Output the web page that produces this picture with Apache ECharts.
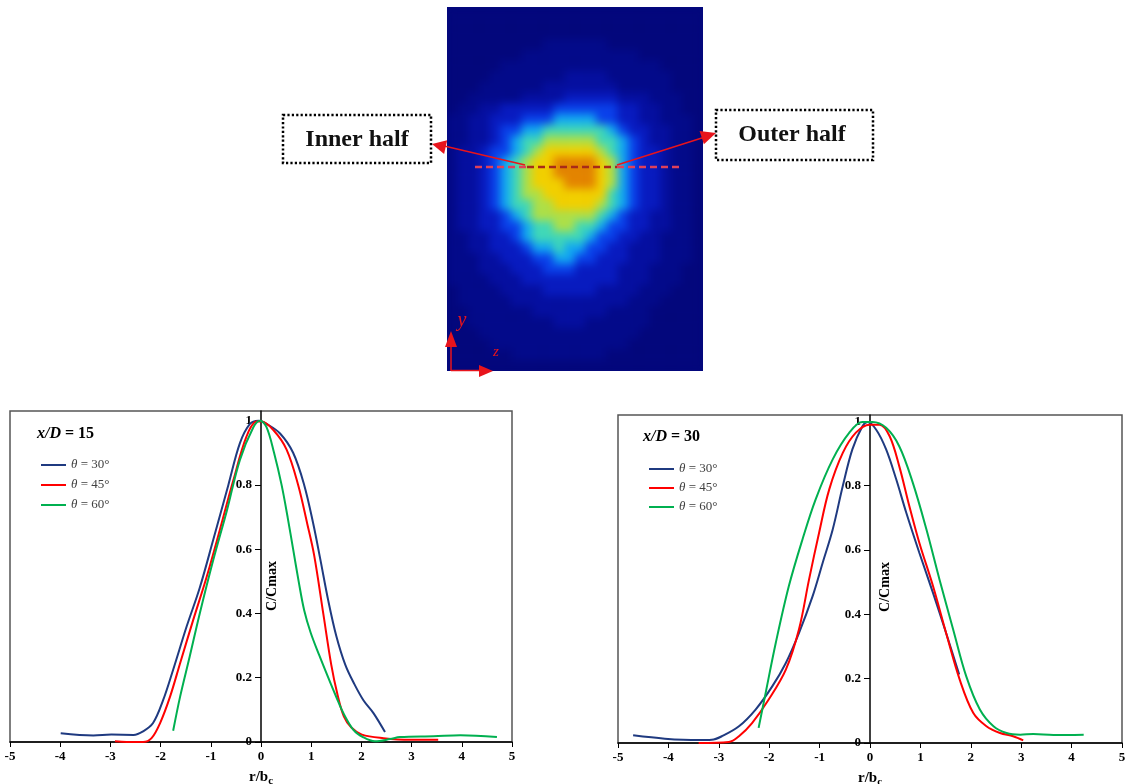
<!DOCTYPE html>
<html><head><meta charset="utf-8">
<script src="https://cdn.jsdelivr.net/npm/echarts@6/dist/echarts.min.js"></script>
<style>
html,body{margin:0;padding:0;background:#fff;}
#wrap{position:relative;width:1137px;height:784px;overflow:hidden;}
#contourClip{position:absolute;left:447px;top:7px;width:256px;height:364px;overflow:hidden;background:#03077c;}
#contour{position:absolute;left:-20px;top:-20px;width:296px;height:404px;filter:blur(4.5px);}
#main{position:absolute;left:0;top:0;width:1137px;height:784px;}
</style></head>
<body><div id="wrap"><div id="contourClip"><div id="contour"></div></div><div id="main"></div></div>
<script>
// ---------- data ----------
const seriesNames = ['θ = 30°', 'θ = 45°', 'θ = 60°'];
const panelTitles = ['15', '30'];
const xTicks = [-5, -4, -3, -2, -1, 0, 1, 2, 3, 4, 5];
const yTicks = [0, 0.2, 0.4, 0.6, 0.8, 1];

// x/D = 15  : [r/bc, C/Cmax]
const xd15_t30 = [[-3.99,0.027],[-3.34,0.020],[-2.98,0.023],[-2.54,0.022],[-2.35,0.033],[-2.15,0.059],[-1.95,0.13],[-1.75,0.225],[-1.48,0.36],[-1.22,0.48],[-0.95,0.63],[-0.65,0.80],[-0.42,0.93],[-0.22,0.99],[-0.05,1.0],[0.11,0.99],[0.38,0.96],[0.64,0.90],[0.86,0.80],[1.04,0.68],[1.18,0.57],[1.34,0.44],[1.50,0.33],[1.68,0.24],[1.86,0.18],[2.04,0.13],[2.24,0.09],[2.47,0.031]];
const xd15_t45 = [[-2.91,0.002],[-2.68,0.0],[-2.35,0.0],[-2.18,0.012],[-2.01,0.059],[-1.81,0.142],[-1.61,0.246],[-1.35,0.38],[-1.08,0.515],[-0.82,0.66],[-0.55,0.815],[-0.29,0.95],[-0.09,0.997],[0.01,0.997],[0.25,0.97],[0.51,0.91],[0.74,0.80],[0.92,0.68],[1.06,0.58],[1.24,0.40],[1.40,0.24],[1.52,0.15],[1.65,0.08],[1.80,0.045],[2.01,0.023],[2.44,0.012],[2.97,0.007],[3.53,0.007]];
const xd15_t60 = [[-1.75,0.035],[-1.61,0.142],[-1.42,0.266],[-1.22,0.40],[-0.95,0.567],[-0.68,0.72],[-0.42,0.878],[-0.15,0.98],[-0.02,1.0],[0.11,0.98],[0.26,0.90],[0.41,0.80],[0.53,0.70],[0.64,0.60],[0.75,0.50],[0.86,0.41],[0.99,0.34],[1.16,0.27],[1.34,0.20],[1.50,0.14],[1.64,0.09],[1.84,0.038],[2.04,0.0145],[2.27,0.002],[2.57,0.009],[2.77,0.0155],[3.44,0.018],[3.97,0.021],[4.70,0.0155]];

// x/D = 30
const xd30_t30 = [[-4.70,0.024],[-4.07,0.0135],[-3.40,0.009],[-3.14,0.010],[-2.94,0.021],[-2.60,0.052],[-2.27,0.104],[-1.94,0.176],[-1.67,0.249],[-1.41,0.342],[-1.14,0.456],[-0.94,0.56],[-0.74,0.664],[-0.54,0.799],[-0.35,0.913],[-0.15,0.985],[-0.05,0.998],[0.12,0.975],[0.32,0.913],[0.52,0.82],[0.72,0.716],[0.98,0.591],[1.25,0.467],[1.51,0.342],[1.77,0.213]];
const xd30_t45 = [[-3.40,0.0],[-2.80,0.003],[-2.60,0.021],[-2.34,0.062],[-2.01,0.135],[-1.67,0.228],[-1.41,0.353],[-1.21,0.508],[-1.01,0.654],[-0.81,0.788],[-0.54,0.902],[-0.28,0.965],[-0.01,0.99],[0.19,0.99],[0.39,0.954],[0.58,0.861],[0.78,0.737],[0.98,0.622],[1.25,0.488],[1.51,0.342],[1.78,0.197],[2.05,0.093],[2.31,0.052],[2.58,0.031],[2.84,0.021],[3.04,0.008]];
const xd30_t60 = [[-2.21,0.047],[-2.07,0.156],[-1.87,0.311],[-1.61,0.488],[-1.34,0.633],[-1.08,0.757],[-0.74,0.882],[-0.41,0.965],[-0.15,0.998],[0.05,0.998],[0.32,0.98],[0.58,0.923],[0.85,0.809],[1.12,0.664],[1.38,0.508],[1.65,0.353],[1.91,0.207],[2.18,0.104],[2.45,0.052],[2.71,0.031],[2.98,0.026],[3.24,0.028],[3.64,0.025],[4.24,0.026]];

// contour picture: concentration level (0..9) per cell, rows top->bottom
const contourRows = [
"000000000000000000000000",
"000000000000000000000000",
"000000000000000000000000",
"000000000111111000000000",
"000000011111111111000000",
"000001111111111111110000",
"000011111112222111111000",
"000111111222222211111000",
"001111122223333322211100",
"011223333344444433221100",
"112233344455554433221110",
"112234455666666543322110",
"112234566777776654322110",
"122344567888887654332110",
"122345678899998754332110",
"122345678899998754332110",
"122345678889998754332110",
"122345677888888654332110",
"122345667788887654332110",
"122334567777776543322110",
"122334456677665443322110",
"112233456666654433221110",
"112233345565544332221110",
"111223334455443332221110",
"111222333444333322211100",
"111122233333333322211100",
"011112222333332222111000",
"011111222222222221110000",
"001111112222222111100000",
"001111111122211111100000",
"000111111111111111000000",
"000011111111111110000000",
"000000111111111000000000",
"000000000000000000000000"
];
const levelColors = ['#03077c','#030a8a','#050fa0','#081bc0','#0a40ea','#12a8f2','#40d8b8','#aee048','#f2d000','#e48400'];

// ---------- contour ----------
const contourData = [];
contourRows.forEach((row, j) => { for (let i = 0; i < row.length; i++) contourData.push([i, j, +row[i]]); });
const nCols = contourRows[0].length, nRows = contourRows.length;
const cChart = echarts.init(document.getElementById('contour'), null, {renderer: 'canvas'});
cChart.setOption({
  animation: false,
  grid: {left: 20, top: 20, width: 256, height: 364, outerBoundsMode: 'none'},
  xAxis: {type: 'category', data: Array.from({length: nCols}, (_, i) => i), show: false},
  yAxis: {type: 'category', data: Array.from({length: nRows}, (_, i) => i), inverse: true, show: false},
  visualMap: {show: false, min: 0, max: 9, dimension: 2, inRange: {color: levelColors}},
  series: [{type: 'heatmap', data: contourData, silent: true, itemStyle: {borderWidth: 0}}]
});

// ---------- main ----------
const FONT = '"Liberation Serif", "Times New Roman", serif';
const colors = ['#1f3a80', '#ff0000', '#00b050'];
const panels = [
  {grid: {left: 10, top: 411, width: 502, height: 331}, ymax: 1.03, data: [xd15_t30, xd15_t45, xd15_t60]},
  {grid: {left: 618, top: 415, width: 504, height: 328}, ymax: 1.02, data: [xd30_t30, xd30_t45, xd30_t60]}
];

const grids = [], xAxes = [], yAxes = [], series = [];
panels.forEach((p, k) => {
  grids.push(Object.assign({show: true, borderColor: '#555', borderWidth: 1.5, backgroundColor: 'transparent', outerBoundsMode: 'none', containLabel: false}, p.grid));
  xAxes.push({
    type: 'value', gridIndex: k, min: xTicks[0], max: xTicks[xTicks.length - 1], interval: 1,
    axisLine: {onZero: false, lineStyle: {color: '#000', width: 1.5}},
    axisTick: {show: true, length: 5, lineStyle: {color: '#000', width: 1}},
    axisLabel: {color: '#000', fontFamily: FONT, fontWeight: 'bold', fontSize: 13, margin: 8},
    splitLine: {show: false},
    name: '{a|r/b}{s|c}', nameLocation: 'middle', nameGap: 26,
    nameTextStyle: {rich: {
      a: {fontFamily: FONT, fontWeight: 'bold', fontSize: 15, color: '#000', lineHeight: 18},
      s: {fontFamily: FONT, fontWeight: 'bold', fontSize: 11, color: '#000', lineHeight: 18, padding: [9, 0, 0, 0]}
    }}
  });
  yAxes.push({
    type: 'value', gridIndex: k, min: 0, max: p.ymax, interval: 0.2,
    offset: -p.grid.width / 2,
    axisLine: {onZero: false, lineStyle: {color: '#000', width: 1.5}},
    axisTick: {show: true, length: 6, customValues: yTicks, lineStyle: {color: '#000'}},
    axisLabel: {customValues: yTicks, color: '#000', fontFamily: FONT, fontWeight: 'bold', fontSize: 13, margin: 9,
      formatter: v => (Math.abs(v - 1) < 1e-6 ? '1' : Math.abs(v) < 1e-6 ? '0' : (v > 1 ? '' : v.toFixed(1)))},
    splitLine: {show: false}
  });
  p.data.forEach((d, i) => series.push({
    type: 'line', name: seriesNames[i], data: d, xAxisIndex: k, yAxisIndex: k,
    smooth: 0.35, symbol: 'none', silent: true,
    lineStyle: {color: colors[i], width: 2}, itemStyle: {color: colors[i]}
  }));
});

const legendText = {fontFamily: FONT, fontSize: 13, color: '#404040', lineHeight: 14,
  rich: {i: {fontFamily: FONT, fontSize: 13, color: '#404040', fontStyle: 'italic'},
         n: {fontFamily: FONT, fontSize: 13, color: '#404040'}}};
const legendFmt = name => '{i|' + name.slice(0, 1) + '}{n|' + name.slice(1) + '}';
const legends = [
  {data: seriesNames, left: 36, top: 453, orient: 'vertical', icon: 'rect', itemWidth: 25, itemHeight: 2, itemGap: 6, selectedMode: false, textStyle: legendText, formatter: legendFmt},
  {data: seriesNames, left: 644, top: 457, orient: 'vertical', icon: 'rect', itemWidth: 25, itemHeight: 2, itemGap: 5, selectedMode: false, textStyle: legendText, formatter: legendFmt}
];

function arrowHead(tip, from, len, half) {
  const dx = tip[0] - from[0], dy = tip[1] - from[1], L = Math.hypot(dx, dy);
  const ux = dx / L, uy = dy / L, bx = tip[0] - ux * len, by = tip[1] - uy * len;
  return [tip, [bx - uy * half, by + ux * half], [bx + uy * half, by - ux * half]];
}
const RED = '#e8141c';
const graphic = [
  // dashed cut line
  {type: 'line', shape: {x1: 475, y1: 167, x2: 527, y2: 167}, style: {stroke: '#e0405a', lineWidth: 2.5, lineDash: [7, 4]}},
  {type: 'line', shape: {x1: 527, y1: 167, x2: 617, y2: 167}, style: {stroke: '#a82a18', lineWidth: 2.5, lineDash: [7, 4]}},
  {type: 'line', shape: {x1: 617, y1: 167, x2: 680, y2: 167}, style: {stroke: '#e0405a', lineWidth: 2.5, lineDash: [7, 4]}},
  // arrows
  {type: 'line', shape: {x1: 525, y1: 165, x2: 440, y2: 145}, style: {stroke: RED, lineWidth: 1.5}},
  {type: 'polygon', shape: {points: arrowHead([432, 144], [525, 165], 14, 7)}, style: {fill: RED}},
  {type: 'line', shape: {x1: 617, y1: 165, x2: 705, y2: 137}, style: {stroke: RED, lineWidth: 1.5}},
  {type: 'polygon', shape: {points: arrowHead([716, 133], [617, 165], 15, 7)}, style: {fill: RED}},
  // boxes
  {type: 'rect', shape: {x: 283, y: 115, width: 148, height: 48}, style: {fill: '#fff', stroke: '#000', lineWidth: 2.5, lineDash: [2.2, 2.2]}},
  {type: 'text', x: 357, y: 140, style: {text: 'Inner half', font: 'bold 24px ' + FONT, fill: '#111', align: 'center', verticalAlign: 'middle'}},
  {type: 'rect', shape: {x: 716, y: 110, width: 157, height: 50}, style: {fill: '#fff', stroke: '#000', lineWidth: 2.5, lineDash: [2.2, 2.2]}},
  {type: 'text', x: 792, y: 135, style: {text: 'Outer half', font: 'bold 24px ' + FONT, fill: '#111', align: 'center', verticalAlign: 'middle'}},
  // coordinate indicator
  {type: 'line', shape: {x1: 451, y1: 371, x2: 451, y2: 346}, style: {stroke: RED, lineWidth: 1.5}},
  {type: 'polygon', shape: {points: [[451, 331], [445, 347], [457, 347]]}, style: {fill: RED}},
  {type: 'line', shape: {x1: 451, y1: 370.5, x2: 481, y2: 370.5}, style: {stroke: RED, lineWidth: 1.5}},
  {type: 'polygon', shape: {points: [[493, 371], [479, 365], [479, 377]]}, style: {fill: RED}},
  {type: 'text', x: 462, y: 321, style: {text: 'y', font: 'italic 20px ' + FONT, fill: RED, align: 'center', verticalAlign: 'middle'}},
  {type: 'text', x: 496, y: 352, style: {text: 'z', font: 'italic 15px ' + FONT, fill: RED, align: 'center', verticalAlign: 'middle'}},
  // panel titles
  {type: 'text', x: 37, y: 434, style: {text: '{i|x/D}{b| = ' + panelTitles[0] + '}', verticalAlign: 'middle',
    rich: {i: {font: 'italic bold 16px ' + FONT, fill: '#000'}, b: {font: 'bold 16px ' + FONT, fill: '#000'}}}},
  {type: 'text', x: 643, y: 437, style: {text: '{i|x/D}{b| = ' + panelTitles[1] + '}', verticalAlign: 'middle',
    rich: {i: {font: 'italic bold 16px ' + FONT, fill: '#000'}, b: {font: 'bold 16px ' + FONT, fill: '#000'}}}},
  // y axis names
  {type: 'text', x: 272, y: 586, rotation: Math.PI / 2, style: {text: 'C/Cmax', font: 'bold 14px ' + FONT, fill: '#000', align: 'center', verticalAlign: 'middle'}},
  {type: 'text', x: 885, y: 587, rotation: Math.PI / 2, style: {text: 'C/Cmax', font: 'bold 14px ' + FONT, fill: '#000', align: 'center', verticalAlign: 'middle'}}
];

const chart = echarts.init(document.getElementById('main'), null, {renderer: 'canvas'});
chart.setOption({
  animation: false,
  backgroundColor: 'transparent',
  grid: grids, xAxis: xAxes, yAxis: yAxes, series: series,
  legend: legends,
  graphic: graphic
});
</script></body></html>
